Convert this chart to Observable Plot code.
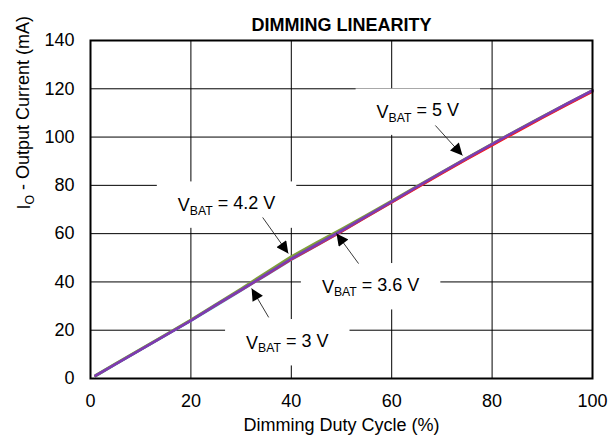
<!DOCTYPE html>
<html><head><meta charset="utf-8">
<script src="https://cdn.jsdelivr.net/npm/d3@7"></script>
<script src="https://cdn.jsdelivr.net/npm/@observablehq/plot@0.6"></script>
<style>body{margin:0;background:#fff}</style>
</head><body><div id="chart"></div>
<script>
// ---- data ----
const duty = [1, 5, 10, 15, 20, 25, 30, 35, 40, 45, 50, 55, 60, 65, 70, 75, 80, 85, 90, 95, 100];
const v3V  = [1.1, 6, 12, 18, 24, 30.3, 36.6, 42.9, 49.3, 55.1, 61, 67.1, 73.1, 79.2, 85.2, 91.1, 96.9, 102.6, 108.2, 113.7, 119.1];
const v36V = [1.1, 6, 12, 18, 24, 30.3, 36.5, 42.8, 49.2, 54.9, 60.7, 66.8, 72.8, 78.9, 84.9, 90.8, 96.5, 102.2, 107.8, 113.3, 118.7];
const v42V = [1.2, 6.1, 12.1, 18.1, 24.2, 30.6, 37.1, 43.8, 50.4, 56.2, 61.8, 67.6, 73.5, 79.5, 85.4, 91.3, 97.1, 102.8, 108.4, 113.9, 119.3];
const v5V  = [1.2, 6, 12, 18, 24, 30.5, 36.7, 43.1, 49.6, 55.4, 61.2, 67.3, 73.3, 79.4, 85.4, 91.3, 97.1, 102.8, 108.4, 113.9, 119.3];
const seriesNames = ["3 V", "3.6 V", "4.2 V", "5 V"];
const xTicks = [0, 20, 40, 60, 80, 100];
const yTicks = [0, 20, 40, 60, 80, 100, 120, 140];

// annotations (label text, label centre, arrow tail -> head)
const annoText  = ["V_{BAT} = 4.2 V", "V_{BAT} = 5 V", "V_{BAT} = 3.6 V", "V_{BAT} = 3 V"];
const annoX     = [27.1, 65.2, 55.8, 39.2];
const annoY     = [71.7, 110.2, 37.9, 14.7];
const arrowX1   = [34.3, 68.7, 53.4, 35.5];
const arrowY1   = [66.7, 104.8, 47.6, 25.3];
const arrowX2   = [39.4, 74.1, 49.0, 32.1];
const arrowY2   = [51.8, 92.4, 60.1, 37.3];

// ---- build table ----
const values = {"3 V": v3V, "3.6 V": v36V, "4.2 V": v42V, "5 V": v5V};
const rows = seriesNames.flatMap(s => duty.map((d, i) => ({series: s, duty: d, current: values[s][i]})));
const annos = annoText.map((t, i) => ({t, x: annoX[i], y: annoY[i], x1: arrowX1[i], y1: arrowY1[i], x2: arrowX2[i], y2: arrowY2[i]}));

const colors = {"3 V": "#3fb6ee", "3.6 V": "#ff1a1a", "4.2 V": "#7f9f3a", "5 V": "#7a3cb4"};
const widths = {"3 V": 3, "3.6 V": 2, "4.2 V": 3, "5 V": 2.6};
const order = ["3 V", "4.2 V", "3.6 V", "5 V"];
const FONT = "'Liberation Sans', Arial, sans-serif";

const chart = Plot.plot({
  width: 611, height: 441,
  marginLeft: 90, marginRight: 19, marginTop: 40, marginBottom: 63,
  style: {fontFamily: FONT, fontSize: "18px", color: "#000", background: "#fff", overflow: "visible"},
  x: {domain: [0, 100]},
  y: {domain: [0, 140]},
  marks: [
    Plot.gridX(xTicks, {stroke: "#000", strokeOpacity: 1, strokeWidth: 1}),
    Plot.gridY(yTicks, {stroke: "#000", strokeOpacity: 1, strokeWidth: 1}),
    ...order.map(s => Plot.line(rows.filter(r => r.series === s), {x: "duty", y: "current", stroke: colors[s], strokeWidth: widths[s]})),
    Plot.link(annos, {x1: "x1", y1: "y1", x2: "x2", y2: "y2", stroke: "#222", strokeWidth: 0.9}),
    Plot.text(annos, {x: "x", y: "y", text: "t", fontSize: 18, fill: "#000"}),
    Plot.frame({stroke: "#000", strokeWidth: 2}),
    Plot.axisX(xTicks, {tickSize: 0, tickPadding: 16, fontSize: 18, label: null}),
    Plot.axisY(yTicks, {tickSize: 0, tickPadding: 16, fontSize: 18, label: null}),
    Plot.text(["DIMMING LINEARITY"], {text: d => d, frameAnchor: "top", dy: -22, fontWeight: "bold", fontSize: 18}),
    Plot.text(["Dimming Duty Cycle (%)"], {text: d => d, frameAnchor: "bottom", dy: 52, fontSize: 18}),
    Plot.text(["I_{O} - Output Current (mA)"], {text: d => d, frameAnchor: "left", rotate: -90, dx: -66, fontSize: 18})
  ]
});
document.getElementById("chart").appendChild(chart);

// ---- post-processing: subscripts, arrow heads, label boxes ----
const svg = d3.select(chart);
svg.selectAll("text").each(function () {
  const t = this.textContent;
  const m = t.match(/^(.*?)_\{(.*?)\}(.*)$/);
  if (!m) return;
  const el = d3.select(this);
  el.text(null);
  el.append("tspan").text(m[1]);
  el.append("tspan").attr("dy", "0.3em").attr("font-size", "0.68em").text(m[2]);
  el.append("tspan").attr("dy", "-0.3em").text(m[3]);
});

const defs = svg.insert("defs", ":first-child");
defs.append("marker").attr("id", "tri").attr("viewBox", "0 0 10 10")
  .attr("refX", 10).attr("refY", 5).attr("markerWidth", 14).attr("markerHeight", 12)
  .attr("markerUnits", "userSpaceOnUse").attr("orient", "auto")
  .append("path").attr("d", "M0,0L10,5L0,10Z").attr("fill", "#000");
svg.selectAll('g[aria-label="link"] path').attr("marker-end", "url(#tri)");

const svgRect = chart.getBoundingClientRect();
const firstLine = chart.querySelector('g[aria-label="line"]');
const boxG = d3.select(chart).insert("g", () => firstLine).attr("class", "label-boxes");
svg.selectAll('g[aria-label="text"]').filter((d, i) => i === 0).selectAll("text").each(function () {
  const b = this.getBoundingClientRect();
  boxG.append("rect")
    .attr("x", b.left - svgRect.left - 21).attr("y", b.top - svgRect.top - 12)
    .attr("width", b.width + 42).attr("height", b.height + 22)
    .attr("fill", "#fff");
});
</script>
</body></html>
